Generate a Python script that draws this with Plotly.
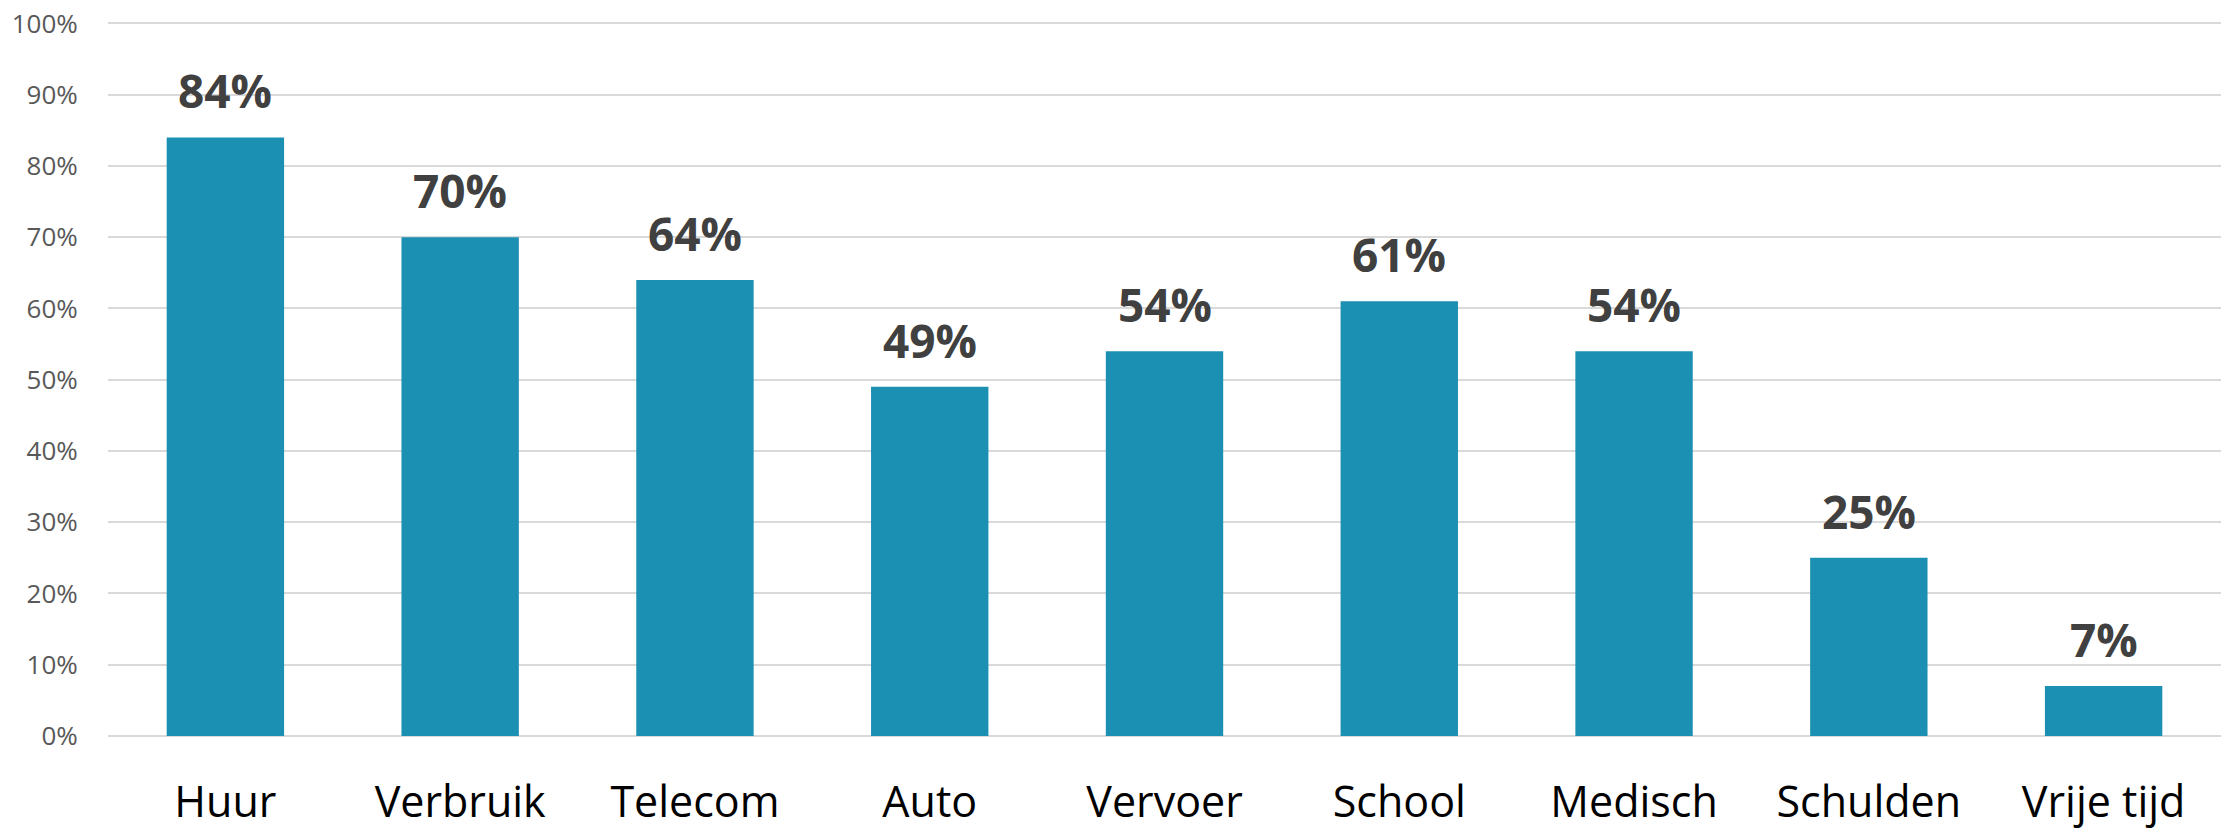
import plotly.graph_objects as go

categories = ["Huur", "Verbruik", "Telecom", "Auto", "Vervoer", "School", "Medisch", "Schulden", "Vrije tijd"]
values = [0.84, 0.70, 0.64, 0.49, 0.54, 0.61, 0.54, 0.25, 0.07]
labels = ["84%", "70%", "64%", "49%", "54%", "61%", "54%", "25%", "7%"]

fig = go.Figure()
fig.add_trace(go.Bar(
    x=categories, y=values,
    marker=dict(color="#1c90b3", line=dict(width=0)),
    hoverinfo="skip",
))

for c, v, t in zip(categories, values, labels):
    fig.add_annotation(
        x=c, y=v, text="<b>" + t + "</b>", showarrow=False,
        yanchor="bottom", yshift=14,
        font=dict(family="Open Sans", size=46, color="#404040"),
    )

fig.update_layout(
    width=2233, height=832,
    margin=dict(l=100, r=20, t=14, b=104),
    paper_bgcolor="white", plot_bgcolor="white",
    bargap=0.5,
    showlegend=False,
    xaxis=dict(
        automargin=False,
        tickfont=dict(family="Open Sans", size=43, color="#000000"),
        showgrid=False, showline=False,
        ticks="outside", ticklen=28, tickcolor="rgba(0,0,0,0)",
    ),
    yaxis=dict(
        automargin=False,
        ticklabeloverflow="allow",
        range=[0, 1.002], tickvals=[i / 10 for i in range(11)], tickformat=".0%",
        tickfont=dict(family="Open Sans", size=26, color="#595959"),
        showgrid=True, gridcolor="#d9d9d9", gridwidth=2,
        zeroline=True, zerolinecolor="#d9d9d9", zerolinewidth=2,
        showline=False,
        ticks="outside", ticklen=24, tickcolor="rgba(0,0,0,0)",
    ),
)

fig.write_html("out.html")
